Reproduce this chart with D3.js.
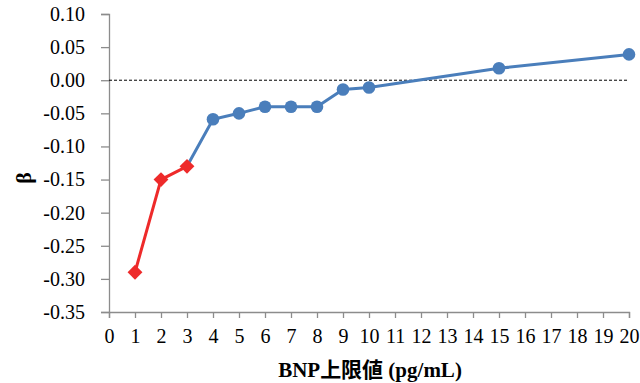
<!DOCTYPE html>
<html><head><meta charset="utf-8">
<script src="https://cdn.jsdelivr.net/npm/d3@7"></script>
<style>body{margin:0;background:#fff}svg{display:block}
.lbl{font-family:"Liberation Serif","Times New Roman",serif;}
.xt{font-family:"Liberation Serif","Noto Sans CJK JP",serif;}
</style>
</head><body>
<svg id="c" width="640" height="383"></svg>
<script>
const redX = [1, 2, 3];
const redY = [-0.29, -0.15, -0.13];
const blueX = [3, 4, 5, 6, 7, 8, 9, 10, 15, 20];
const blueY = [-0.13, -0.059, -0.05, -0.04, -0.04, -0.04, -0.014, -0.011, 0.018, 0.039];
const blueMarkerFrom = 1; // first blue point is drawn as red diamond
const xTicks = d3.range(0, 21);
const yTicks = [0.10, 0.05, 0.00, -0.05, -0.10, -0.15, -0.20, -0.25, -0.30, -0.35];
const xTitle = "BNP上限値 (pg/mL)";
const yTitle = "β";

const svg = d3.select("#c");
const x = d3.scaleLinear().domain([0, 20]).range([109, 629]);
const y = d3.scaleLinear().domain([-0.35, 0.10]).range([312, 14]);
const axisColor = "#8c8c8c";
const fmtY = d => d3.format(".2f")(d).replace("\u2212", "-");

// Y axis
const ya = svg.append("g").attr("transform", "translate(109,0)")
  .call(d3.axisLeft(y).tickValues(yTicks).tickFormat(fmtY).tickSize(8).tickPadding(16));
ya.attr("font-family", null).attr("font-size", null);
ya.select(".domain").attr("stroke", axisColor).attr("stroke-width", 1.3);
ya.selectAll(".tick line").attr("stroke", axisColor).attr("stroke-width", 1.3);
ya.selectAll("text").attr("class", "lbl").style("font-size", "20px").attr("fill", "#000");

// X axis
const xa = svg.append("g").attr("transform", "translate(0,312)")
  .call(d3.axisBottom(x).tickValues(xTicks).tickFormat(d3.format("d")).tickSize(6).tickPadding(11));
xa.attr("font-family", null).attr("font-size", null);
xa.select(".domain").attr("stroke", axisColor).attr("stroke-width", 1.3);
xa.selectAll(".tick line").attr("stroke", axisColor).attr("stroke-width", 1.3);
xa.selectAll("text").attr("class", "lbl").style("font-size", "20px").attr("fill", "#000");

// zero dashed line
svg.append("line").attr("x1", x(0)).attr("x2", x(20)).attr("y1", y(0)).attr("y2", y(0))
  .attr("stroke", "#000").attr("stroke-width", 1).attr("stroke-dasharray", "3,2");

const line = d3.line().x(d => x(d[0])).y(d => y(d[1]));
const blue = blueX.map((v, i) => [v, blueY[i]]);
const red = redX.map((v, i) => [v, redY[i]]);

svg.append("path").datum(blue).attr("d", line).attr("fill", "none")
  .attr("stroke", "#4a7ebb").attr("stroke-width", 3);
svg.selectAll("circle.b").data(blue.slice(blueMarkerFrom)).enter().append("circle")
  .attr("cx", d => x(d[0])).attr("cy", d => y(d[1])).attr("r", 6.3).attr("fill", "#4a7ebb");

svg.append("path").datum(red).attr("d", line).attr("fill", "none")
  .attr("stroke", "#ee2a2a").attr("stroke-width", 3);
svg.selectAll("path.r").data(red).enter().append("path")
  .attr("d", d3.symbol().type(d3.symbolSquare).size(110))
  .attr("transform", d => `translate(${x(d[0])},${y(d[1])}) rotate(45)`)
  .attr("fill", "#ee2a2a");

// titles
svg.append("text").attr("class", "xt").attr("x", 370).attr("y", 377).attr("text-anchor", "middle")
  .attr("font-weight", "bold").style("font-size", "21px").text(xTitle);
svg.append("text").attr("class", "lbl").attr("transform", "translate(31,178) rotate(-90)").attr("text-anchor", "middle")
  .attr("font-weight", "bold").style("font-size", "22px").text(yTitle);
</script>
</body></html>
